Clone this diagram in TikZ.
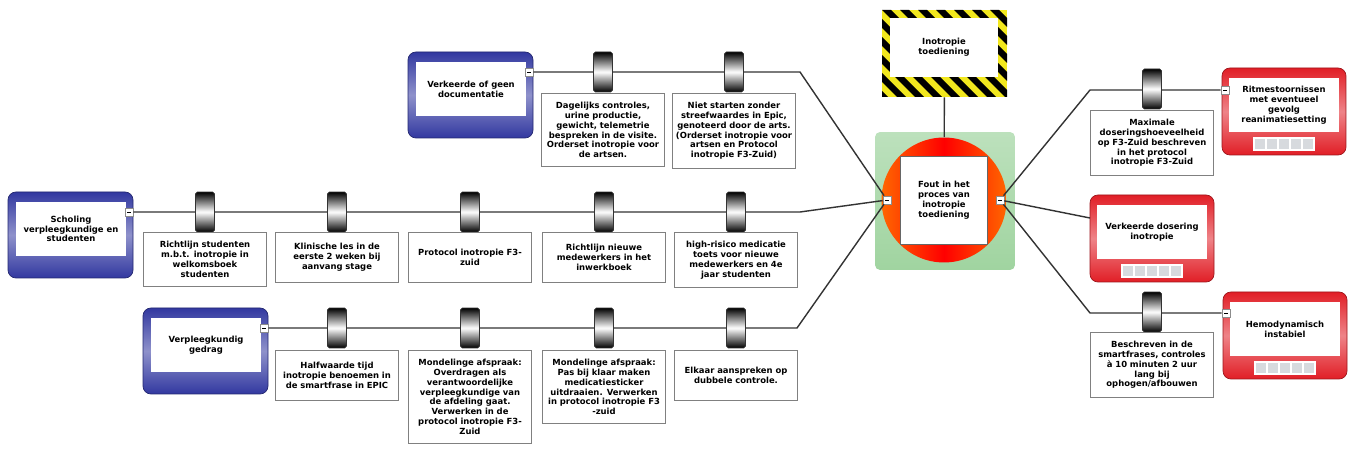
\documentclass[tikz,border=0pt]{standalone}
\usepackage{fontspec}
\setmainfont{DejaVu Sans}
\definecolor{causeblue}{RGB}{50,56,160}
\definecolor{effectred}{RGB}{225,30,38}
\definecolor{hazyellow}{RGB}{242,232,30}
\definecolor{panelgreen}{RGB}{160,212,160}
\definecolor{cellgrey}{RGB}{215,218,222}

\begin{document}
\begin{tikzpicture}[x=0.02cm,y=-0.02cm,
    every node/.style={font=\fontsize{4.8}{5.6}\selectfont\bfseries},
    causeframe/.style={draw=causeblue!70!black,rounded corners=1.6mm,top color=causeblue,bottom color=causeblue,middle color=causeblue!55},
    effectframe/.style={draw=effectred!70!black,rounded corners=1.6mm,top color=effectred,bottom color=effectred,middle color=effectred!55},
    inner/.style={fill=white,align=center,minimum width=2.2cm,minimum height=1.1cm,inner sep=1pt},
    txt/.style={draw=black!50,fill=white,align=center,text width=2.42cm,inner xsep=0.5pt,inner ysep=5pt,minimum height=1cm,anchor=north},
    barrel/.style={draw=black!80,top color=black,bottom color=black,middle color=white,minimum width=0.38cm,minimum height=0.8cm,inner sep=0pt,rounded corners=1pt},
    marker/.style={draw=black!45,fill=white,minimum size=0.16cm,inner sep=0pt},
    cell/.style={draw=white,fill=cellgrey,line width=0.6pt},
    link/.style={draw=black!80,line width=0.8pt}]
  \useasboundingbox (0,0) rectangle (1353,452);

  % causes on the left
  \foreach \x/\y/\nm/\txt in {408/52/docu/{Verkeerde of geen\\documentatie},
      8/192/schol/{Scholing\\verpleegkundige en\\studenten},
      143/308/gedrag/{Verpleegkundig\\gedrag}}{
    \draw[causeframe] (\x,\y) rectangle ++(125,86);
    \node[inner] (\nm) at (\x+63,\y+37) {\txt};
    \node[marker] (\nm-m) at (\x+121,\y+20) {\rule{2pt}{0.4pt}};
  }

  % effects on the right
  \foreach \x/\y/\nm/\txt in {1222/68/ritme/{Ritmestoornissen\\met eventueel\\gevolg\\reanimatiesetting},
      1090/195/dosering/{Verkeerde dosering\\inotropie},
      1223/292/hemo/{Hemodynamisch\\instabiel}}{
    \draw[effectframe] (\x,\y) rectangle ++(124,87);
    \node[inner] (\nm) at (\x+62,\y+37) {\txt};
    \foreach \c in {0,...,4}
      \draw[cell] (\x+32+\c*12,\y+70) rectangle ++(12,12);
  }
  \node[marker] (ritme-m) at (1225,90) {\rule{2pt}{0.4pt}};
  \node[marker] (hemo-m) at (1226,313) {\rule{2pt}{0.4pt}};

  % hazard box
  \begin{scope}
    \clip (882,10) rectangle (1007,97);
    \fill[hazyellow] (882,10) rectangle (1007,97);
    \foreach \i in {-6,...,8}
      \fill (882+\i*18,10) -- ++(9,0) -- ++(87,87) -- ++(-9,0) -- cycle;
  \end{scope}
  \node[minimum width=2.5cm,minimum height=1.74cm,inner sep=0pt] (hazfr) at (944.5,53.5) {};
  \node[inner,minimum width=2.16cm,minimum height=1.18cm] (haz) at (944,47.5) {Inotropie\\toediening};

  % centre
  \node[rounded corners=1mm,minimum width=2.8cm,minimum height=2.76cm,top color=panelgreen!70,bottom color=panelgreen] (panel) at (945,201) {};
  \node[circle,minimum size=2.5cm,inner sep=0pt,left color=orange!80!red,right color=orange!80!red,middle color=red] (circ) at (944,200) {};
  \node[draw=black!60,fill=white,minimum width=1.74cm,minimum height=1.76cm,align=center,inner sep=1pt] (fout) at (944,200) {Fout in het\\proces van\\inotropie\\toediening};
  \node[marker] (fout-l) at (887,200) {\rule{2pt}{0.4pt}};
  \node[marker] (fout-r) at (1000,200) {\rule{2pt}{0.4pt}};

  % connectors
  \coordinate (tbend) at (800,72);
  \coordinate (mbend) at (800,212);
  \coordinate (bbend) at (797,328);
  \coordinate (rtbend) at (1090,90);
  \coordinate (rbbend) at (1090,313);
  \coordinate (dosin) at (1090,218);
  \draw[link] (docu-m) -- (tbend) -- (fout-l);
  \draw[link] (schol-m) -- (mbend) -- (fout-l);
  \draw[link] (gedrag-m) -- (bbend) -- (fout-l);
  \draw[link] (fout-r) -- (rtbend) -- (ritme-m);
  \draw[link] (fout-r) -- (dosin);
  \draw[link] (fout-r) -- (rbbend) -- (hemo-m);
  \draw[link] (hazfr) -- (circ);

  % barriers, top branch
  \foreach \x/\nm/\txt in {603/t1/{Dagelijks controles,\\urine productie,\\gewicht, telemetrie\\bespreken in de visite.\\Orderset inotropie voor\\de artsen.},
      734/t2/{Niet starten zonder\\streefwaardes in Epic,\\genoteerd door de arts.\\(Orderset inotropie voor\\artsen en Protocol\\inotropie F3-Zuid)}}{
    \node[barrel] (\nm-b) at (\x,72) {};
    \node[txt] (\nm) at (\x,93) {\txt};
  }

  % barriers, middle branch
  \foreach \x/\nm/\txt in {205/m1/{Richtlijn studenten\\m.b.t. inotropie in\\welkomsboek\\studenten},
      337/m2/{Klinische les in de\\eerste 2 weken bij\\aanvang stage},
      470/m3/{Protocol inotropie F3-\\zuid},
      604/m4/{Richtlijn nieuwe\\medewerkers in het\\inwerkboek},
      736/m5/{high-risico medicatie\\toets voor nieuwe\\medewerkers en 4e\\jaar studenten}}{
    \node[barrel] (\nm-b) at (\x,212) {};
    \node[txt] (\nm) at (\x,232) {\txt};
  }

  % barriers, bottom branch
  \foreach \x/\nm/\txt in {337/b1/{Halfwaarde tijd\\inotropie benoemen in\\de smartfrase in EPIC},
      470/b2/{Mondelinge afspraak:\\Overdragen als\\verantwoordelijke\\verpleegkundige van\\de afdeling gaat.\\Verwerken in de\\protocol inotropie F3-\\Zuid},
      604/b3/{Mondelinge afspraak:\\Pas bij klaar maken\\medicatiesticker\\uitdraaien. Verwerken\\in protocol inotropie F3\\-zuid},
      736/b4/{Elkaar aanspreken op\\dubbele controle.}}{
    \node[barrel] (\nm-b) at (\x,328) {};
    \node[txt] (\nm) at (\x,350) {\txt};
  }

  % barriers, right side
  \node[barrel] (r1-b) at (1152,89) {};
  \node[txt] (r1) at (1152,110) {Maximale\\doseringshoeveelheid\\op F3-Zuid beschreven\\in het protocol\\inotropie F3-Zuid};
  \node[barrel] (r3-b) at (1152,312) {};
  \node[txt] (r3) at (1152,332) {Beschreven in de\\smartfrases, controles\\à 10 minuten 2 uur\\lang bij\\ophogen/afbouwen};
\end{tikzpicture}
\end{document}
